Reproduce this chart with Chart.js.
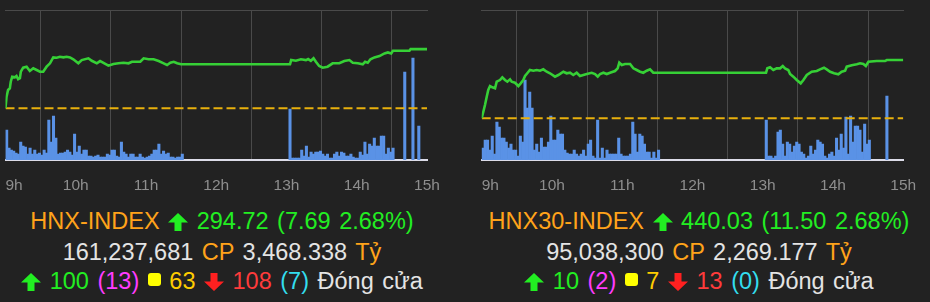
<!DOCTYPE html>
<html>
<head>
<meta charset="utf-8">
<script src="https://cdn.jsdelivr.net/npm/chart.js@4.4.1/dist/chart.umd.min.js"></script>
<style>
  body { margin: 0; background: #222222; width: 930px; height: 302px; overflow: hidden; position: relative;
         font-family: "Liberation Sans", Arial, Helvetica, sans-serif; }
  canvas { position: absolute; top: 0; }
  #hnx { left: 0; }
  #hnx30 { left: 465px; }
  .line { position: absolute; width: 444px; text-align: center; font-size: 23.5px; line-height: 30px;
          word-spacing: 2px; white-space: nowrap; color: #e4e4e4; }
  .left { left: 0; }
  .right { left: 477px; }
  .l1 { top: 206px; }
  .l2 { top: 237px; }
  .l3 { top: 266px; }
  .or { color: #ffa31a; }
  .gr { color: #22ee22; }
  .mg { color: #ff3cff; }
  .yl { color: #ffcc00; }
  .rd { color: #ff3b3b; }
  .cy { color: #33ddee; }
  svg.arr { width: 20px; height: 18px; vertical-align: -2px; }
  .sq { display: inline-block; width: 13px; height: 13px; border-radius: 3px; background: #ffff00; vertical-align: 3px; }
</style>
</head>
<body>
<canvas id="hnx" width="465" height="200"></canvas>
<canvas id="hnx30" width="465" height="200"></canvas>

<div class="line left l1"><span class="or">HNX-INDEX</span> <svg class="arr" viewBox="0 0 20 18"><polygon fill="#22ee22" points="10,0 20,9.5 13.5,9.5 13.5,18 6.5,18 6.5,9.5 0,9.5"/></svg> <span class="gr">294.72 (7.69 2.68%)</span></div>
<div class="line left l2">161,237,681 <span class="or">CP</span> 3,468.338 <span class="or">Tỷ</span></div>
<div class="line left l3"><svg class="arr" viewBox="0 0 20 18"><polygon fill="#22ee22" points="10,0 20,9.5 13.5,9.5 13.5,18 6.5,18 6.5,9.5 0,9.5"/></svg> <span class="gr">100</span> <span class="mg">(13)</span> <span class="sq"></span> <span class="yl">63</span> <svg class="arr" viewBox="0 0 20 18"><polygon fill="#ff2020" points="10,18 20,8.5 13.5,8.5 13.5,0 6.5,0 6.5,8.5 0,8.5"/></svg> <span class="rd">108</span> <span class="cy">(7)</span> Đóng cửa</div>

<div class="line right l1"><span class="or">HNX30-INDEX</span> <svg class="arr" viewBox="0 0 20 18"><polygon fill="#22ee22" points="10,0 20,9.5 13.5,9.5 13.5,18 6.5,18 6.5,9.5 0,9.5"/></svg> <span class="gr">440.03 (11.50 2.68%)</span></div>
<div class="line right l2">95,038,300 <span class="or">CP</span> 2,269.177 <span class="or">Tỷ</span></div>
<div class="line right l3"><svg class="arr" viewBox="0 0 20 18"><polygon fill="#22ee22" points="10,0 20,9.5 13.5,9.5 13.5,18 6.5,18 6.5,9.5 0,9.5"/></svg> <span class="gr">10</span> <span class="mg">(2)</span> <span class="sq"></span> <span class="yl">7</span> <svg class="arr" viewBox="0 0 20 18"><polygon fill="#ff2020" points="10,18 20,8.5 13.5,8.5 13.5,0 6.5,0 6.5,8.5 0,8.5"/></svg> <span class="rd">13</span> <span class="cy">(0)</span> Đóng cửa</div>

<script>
// time axis in minutes after 9h
const timeTicks = [0, 60, 120, 180, 240, 300, 360];

// HNX-INDEX
const hnxRef = 287.03;
const hnxMin = [0, 0.9, 2.2, 3.7, 4.5, 5.7, 8, 9.4, 10.8, 12.3,
  13.1, 15.1, 18, 20.8, 23.7, 26.6, 29.4, 32.2, 35.1, 38,
  40.8, 43.7, 46.5, 49.4, 52.3, 55.1, 57.9, 62.2, 65.1, 70.8,
  73.7, 78, 80.8, 83.7, 87.9, 92.2, 96.5, 100.8, 105.1, 108,
  115.1, 118, 122.2, 126.5, 130.8, 135.1, 138, 140.8, 143.7, 146.6, 150,
  243, 244, 248, 252.3, 256.6, 258.5, 260.8, 263.1, 265.1, 267.9,
  270.9, 275.1, 279.4, 285.1, 289.4, 293.7, 296.6, 300.9, 305.1, 307.1,
  309.4, 311.7, 315.1, 319.4, 323.7, 326.6, 329.4, 330.9, 345, 346, 360];
const hnxVal = [287.03, 288.53, 289.40, 289.62, 290.48, 291.13, 291.05, 291.22, 290.79, 290.92,
  291.78, 292.30, 292.43, 291.87, 292.22, 292.00, 291.78, 291.78, 292.43, 292.87,
  293.64, 293.59, 293.72, 293.64, 293.72, 293.64, 293.39, 292.87, 293.29, 293.52,
  293.20, 292.87, 293.16, 292.94, 292.56, 292.78, 292.87, 292.94, 292.87, 293.07,
  293.07, 293.52, 293.39, 293.39, 293.16, 292.87, 292.65, 292.94, 293.07, 292.87, 292.74,
  292.74, 293.29, 293.20, 293.39, 293.29, 293.42, 293.20, 293.52, 293.07, 292.52,
  292.30, 292.43, 292.87, 292.87, 293.16, 293.29, 292.94, 292.87, 292.74, 293.07,
  292.94, 293.39, 293.64, 293.81, 294.16, 294.29, 294.16, 294.50, 294.50, 294.72, 294.72];
// volume per 2-minute bin, morning from 9:00 and afternoon from 13:02
const hnxVolAM = [30, 12, 10, 9, 7, 6, 18, 14, 13, 6, 12, 6, 10, 6, 7, 5, 10, 7, 40, 18,
  44, 22, 6, 7, 7, 8, 10, 8, 5, 26, 8, 14, 6, 10, 10, 4, 4, 3, 4, 5,
  3, 3, 3, 6, 5, 10, 10, 4, 3, 18, 8, 6, 3, 6, 6, 3, 3, 6, 3, 2,
  3, 4, 6, 10, 10, 16, 6, 9, 6, 7, 3, 3, 2, 3, 3, 6];
const hnxVolPM = [51, 2, 2, 2, 2, 10, 4, 14, 3, 8, 6, 8, 8, 9, 6, 4, 6, 2, 2, 6,
  8, 4, 8, 7, 4, 4, 6, 3, 2, 2, 8, 5, 18, 6, 16, 14, 22, 14, 14, 24,
  24, 6, 12, 8, 12];
const hnxBlockMin = [341, 348, 353];
const hnxBlockVol = [88, 102, 34];

// HNX30-INDEX
const hnx30Ref = 428.53;
const hnx30Min = [0, 1.4, 2.8, 4.3, 5.6, 7.1, 9.1, 11.4, 12.8, 15.6,
  17.6, 19.9, 21.9, 24.2, 25.6, 28.4, 31.3, 33.3, 35.5, 37,
  38.9, 41.2, 44.1, 47, 49.8, 52.6, 55.5, 58.3, 62.6, 65.4,
  69.7, 72.6, 75.4, 78.2, 81.1, 83.9, 86.8, 89.7, 93.9, 96.8,
  99.1, 101.1, 103.9, 106.8, 109.6, 113.8, 116.1, 117.5, 119.6, 122.4,
  126.7, 129.5, 132.4, 135.2, 138, 140.9, 143.7, 146.5, 150,
  242.8, 243.9, 246.2, 249, 251.9, 254.8, 257.1, 259, 261.8, 263.3,
  266.1, 269, 272.4, 274.7, 277.6, 281.8, 286.1, 288.9, 292.3, 294.6,
  297.5, 300.9, 304.5, 307.4, 310.3, 311.7, 316, 320.3, 323.1, 325.9,
  328, 330.2, 337.3, 344.4, 345.9, 360];
const hnx30Val = [428.53, 429.83, 431.15, 432.79, 434.11, 434.90, 434.64, 434.45, 435.75, 436.08,
  436.62, 436.08, 435.75, 436.22, 435.75, 435.55, 434.90, 435.43, 436.08, 436.87,
  437.41, 438.06, 437.92, 438.06, 437.92, 438.19, 437.72, 437.41, 436.74, 437.07,
  437.72, 437.41, 437.52, 437.07, 437.52, 436.87, 437.07, 437.27, 437.52, 437.27,
  436.74, 437.27, 437.52, 437.27, 437.52, 437.86, 438.39, 439.50, 439.04, 439.24,
  439.24, 438.39, 438.06, 437.72, 437.52, 437.92, 438.19, 437.52, 437.52,
  437.52, 438.39, 438.59, 438.06, 438.39, 438.39, 438.85, 438.39, 438.06, 437.27,
  436.74, 436.08, 435.43, 436.08, 437.07, 437.72, 437.86, 438.19, 438.51, 438.19,
  437.72, 437.41, 437.21, 437.72, 437.92, 438.71, 438.98, 439.18, 439.38, 439.24,
  438.85, 439.69, 439.83, 439.83, 440.03, 440.03];
const hnx30VolAM = [12, 20, 20, 10, 24, 6, 38, 33, 22, 22, 18, 12, 16, 10, 10, 4, 24, 18, 80, 52,
  68, 52, 10, 16, 8, 22, 13, 13, 18, 44, 20, 20, 30, 26, 26, 10, 7, 6, 6, 10,
  6, 4, 6, 10, 4, 16, 20, 4, 2, 40, 2, 12, 2, 10, 6, 6, 6, 6, 22, 6,
  4, 4, 4, 6, 38, 26, 8, 26, 24, 16, 8, 8, 2, 8, 2, 10];
const hnx30VolPM = [40, 4, 4, 2, 4, 28, 30, 16, 4, 18, 16, 8, 14, 18, 16, 8, 6, 2, 4, 14,
  6, 10, 20, 18, 16, 4, 2, 6, 8, 4, 22, 10, 26, 12, 43, 6, 44, 18, 34, 34,
  30, 8, 36, 16, 20];
const hnx30BlockMin = [346];
const hnx30BlockVol = [64];

function volPoints(am, pm, blockMin, blockVol) {
  const pts = [];
  am.forEach((v, i) => pts.push({ x: 1 + 2 * i, y: v }));
  pm.forEach((v, i) => pts.push({ x: 243 + 2 * i, y: v }));
  blockMin.forEach((m, i) => pts.push({ x: m, y: blockVol[i] }));
  return pts;
}

function drawIndex(id, mins, vals, ref, yMin, yMax, vols, padLeft, padRight) {
  return new Chart(document.getElementById(id), {
    type: "line",
    data: {
      datasets: [
        {
          data: mins.map((m, i) => ({ x: m, y: vals[i] })),
          borderColor: "#36d036",
          borderWidth: 2.6,
          pointRadius: 0,
          tension: 0,
          yAxisID: "y",
          order: 0,
        },
        {
          data: [{ x: 0, y: ref }, { x: 360, y: ref }],
          borderColor: "#e8b00c",
          borderWidth: 2,
          borderDash: [9, 4],
          pointRadius: 0,
          yAxisID: "y",
          order: 1,
        },
        {
          type: "bar",
          data: vols,
          backgroundColor: "#5a92e6",
          borderWidth: 0,
          barThickness: 2.4,
          yAxisID: "yv",
          order: 2,
        },
      ],
    },
    options: {
      responsive: false,
      animation: false,
      devicePixelRatio: 1,
      layout: { padding: { left: padLeft, right: padRight, top: 10, bottom: 0 } },
      plugins: { legend: { display: false }, tooltip: { enabled: false } },
      scales: {
        x: {
          type: "linear",
          min: 0,
          max: 360,
          offset: false,
          afterBuildTicks: (scale) => {
            scale.ticks = timeTicks.map((v) => ({ value: v })).concat([{ value: 360.01 }]);
          },
          afterFit: (scale) => {
            scale.paddingLeft = 0;
            scale.paddingRight = 0;
            scale.height = 40;
          },
          ticks: {
            autoSkip: false,
            align: "inner",
            padding: 16.5,
            color: "#8e8e8e",
            font: { family: "Liberation Sans", size: 15.5 },
            callback: (v) => (v > 360 ? "" : 9 + v / 60 + "h"),
          },
          grid: { color: "#4a4a4a", lineWidth: 1, drawTicks: false },
          border: { color: "#dcdce8", width: 2 },
        },
        xt: {
          type: "linear",
          position: "top",
          ticks: { display: false },
          grid: { display: false, drawTicks: false },
          border: { color: "#4a4a4a", width: 1 },
        },
        y: { display: false, min: yMin, max: yMax },
        yv: { display: false, min: 0, max: 150 },
      },
    },
  });
}

drawIndex("hnx", hnxMin, hnxVal, hnxRef, 280.3, 299.8,
  volPoints(hnxVolAM, hnxVolPM, hnxBlockMin, hnxBlockVol), 5.5, 38);
drawIndex("hnx30", hnx30Min, hnx30Val, hnx30Ref, 420.3, 449.9,
  volPoints(hnx30VolAM, hnx30VolPM, hnx30BlockMin, hnx30BlockVol), 16.7, 26.7);
</script>
</body>
</html>
